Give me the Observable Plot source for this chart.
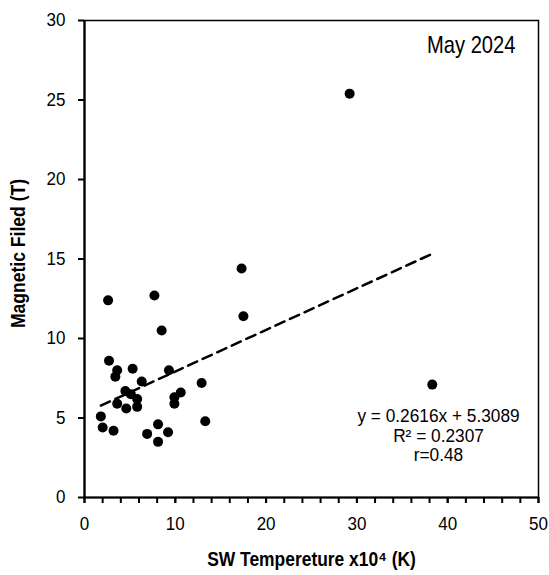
<!DOCTYPE html>
<html>
<head>
<meta charset="utf-8">
<script src="https://cdn.jsdelivr.net/npm/d3@7"></script>
<script src="https://cdn.jsdelivr.net/npm/@observablehq/plot@0.6"></script>
<style>
  html, body { margin: 0; padding: 0; background: #fff; }
  #chart svg { font-family: "Liberation Sans", Arial, sans-serif; }
</style>
</head>
<body>
<div id="chart"></div>
<script>
// SW temperature (x10^4 K)
const temperature = [2.6, 7.7, 8.5, 17.5, 2.7, 3.6, 3.4, 5.3, 9.3, 6.3, 4.5, 5.1, 5.8, 5.8, 3.6, 4.6,
  9.9, 10.6, 9.9, 12.9, 1.8, 2.0, 3.2, 13.3, 8.1, 6.9, 9.2, 8.1, 29.2, 38.3, 17.3];
// Magnetic field (T)
const field = [12.4, 12.7, 10.5, 11.4, 8.6, 8.0, 7.6, 8.1, 8.0, 7.3, 6.7, 6.5, 6.2, 5.7, 5.9, 5.6,
  6.3, 6.6, 5.9, 7.2, 5.1, 4.4, 4.2, 4.8, 4.6, 4.0, 4.1, 3.5, 25.4, 7.1, 14.4];

const trendSlope = 0.2616;
const trendIntercept = 5.3089;
const rSquared = "0.2307";
const rValue = "0.48";

const xMajorTicks = [0, 10, 20, 30, 40, 50];
const xMinorTicks = d3.range(0, 51, 2);
const yTicks = [0, 5, 10, 15, 20, 25, 30];

const titleText = "May 2024";
const xLabel = "SW Tempereture x10\u2074 (K)";
const yLabel = "Magnetic Filed (T)";

const points = temperature.map((t, i) => ({t, b: field[i]}));
const xExt = d3.extent(temperature);
const trend = xExt.map(t => ({t, b: trendSlope * t + trendIntercept}));
const eqText = `y = ${trendSlope}x + ${trendIntercept}\nR\u00b2 = ${rSquared}\nr=${rValue}`;

const chart = Plot.plot({
  width: 549,
  height: 575,
  marginLeft: 84,
  marginRight: 11,
  marginTop: 20,
  marginBottom: 78,
  x: {domain: [0, 50]},
  y: {domain: [0, 30]},
  style: {fontSize: "18px", color: "#000", background: "#fff"},
  marks: [
    Plot.frame({stroke: "#000", strokeWidth: 1.5}),
    Plot.axisX({ticks: xMinorTicks, tickFormat: () => "", tickSize: 6, strokeWidth: 2, label: null}),
    Plot.axisX({ticks: xMajorTicks, tickSize: 6, tickPadding: 13, strokeWidth: 2, fontSize: 18.5, label: null}),
    Plot.axisY({ticks: yTicks, tickSize: 6, tickPadding: 13, strokeWidth: 2, fontSize: 18.5, label: null}),
    Plot.ruleY([0], {stroke: "#000", strokeWidth: 2.2}),
    Plot.ruleX([0], {stroke: "#000", strokeWidth: 2.2}),
    Plot.line(trend, {x: "t", y: "b", stroke: "#000", strokeWidth: 2.5, strokeDasharray: "10,6"}),
    Plot.dot(points, {x: "t", y: "b", r: 5, fill: "#000", stroke: "none"}),
    Plot.text([titleText], {frameAnchor: "top-right", dx: -23, dy: 32, lineAnchor: "bottom", textAnchor: "end", fontSize: 24, fill: "#000"}),
    Plot.text([eqText], {frameAnchor: "bottom-right", dx: -100, dy: -36.5, lineAnchor: "bottom", textAnchor: "middle", fontSize: 18, lineHeight: 1.08, fill: "#000"}),
    Plot.text([xLabel], {frameAnchor: "bottom", dy: 68, lineAnchor: "bottom", textAnchor: "middle", fontSize: 21, fontWeight: "bold", fill: "#000"}),
    Plot.text([yLabel], {frameAnchor: "left", dx: -65.5, dy: -5.5, rotate: -90, textAnchor: "middle", lineAnchor: "middle", fontSize: 19.5, fontWeight: "bold", fill: "#000"})
  ]
});

// emulate the narrow typeface of the original by horizontal compression of each text around its anchor
const narrow = {"24": 0.84, "21": 0.83, "19.5": 0.9, "18.5": 0.92, "18": 0.96};
d3.select(chart).selectAll("text").each(function () {
  let el = this, fs = null;
  while (el && el !== chart) {
    if (el.getAttribute && el.getAttribute("font-size")) { fs = el.getAttribute("font-size"); break; }
    el = el.parentNode;
  }
  const s = narrow[String(parseFloat(fs))];
  if (!s) return;
  const xAttr = parseFloat(this.getAttribute("x")) || 0;
  const t = this.getAttribute("transform") || "";
  this.setAttribute("transform", `${t} translate(${xAttr},0) scale(${s},1) translate(${-xAttr},0)`);
});

document.getElementById("chart").appendChild(chart);
</script>
</body>
</html>
